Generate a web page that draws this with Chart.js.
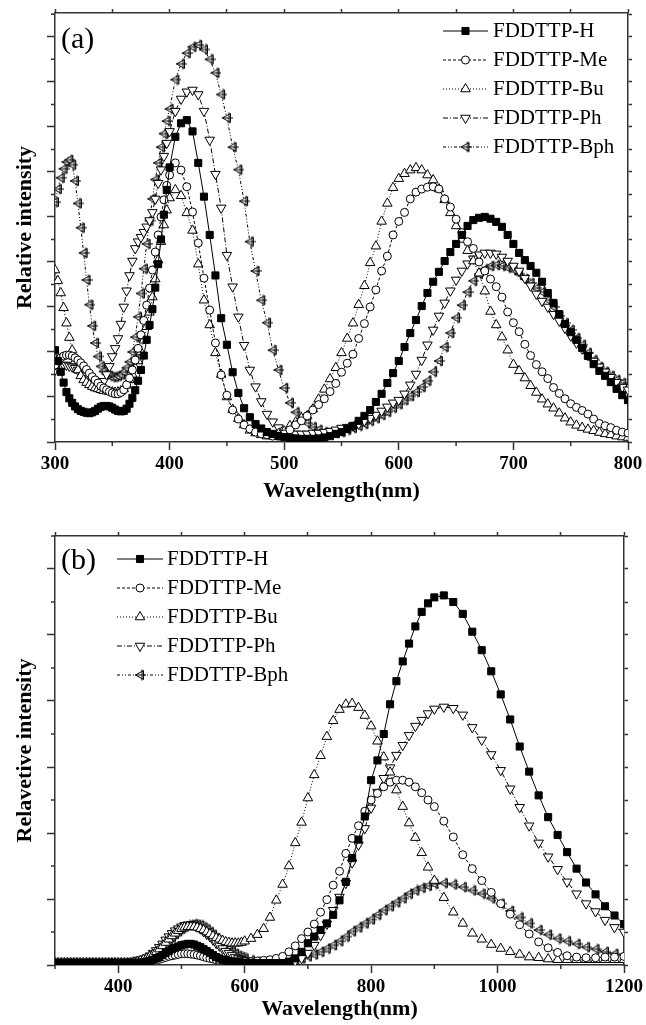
<!DOCTYPE html>
<html>
<head>
<meta charset="utf-8">
<script src="https://cdn.jsdelivr.net/npm/chart.js@4.4.1/dist/chart.umd.min.js"></script>
<style>
  html, body { margin: 0; padding: 0; background: #fff; }
  .panel { position: absolute; left: 0; width: 646px; }
  #wrapA { top: 0; height: 505px; }
  #wrapB { top: 510px; height: 515px; }
</style>
</head>
<body>
<div class="panel" id="wrapA"><canvas id="chartA" width="646" height="505"></canvas></div>
<div class="panel" id="wrapB"><canvas id="chartB" width="646" height="515"></canvas></div>
<script>
var seriesNames = ["FDDTTP-H", "FDDTTP-Me", "FDDTTP-Bu", "FDDTTP-Ph", "FDDTTP-Bph"];

// sampling grid of the spectra (x positions only)
function range(a, b, step) {
  var out = [];
  for (var v = a; v <= b; v += step) out.push(v);
  return out;
}

// ---- panel (a): absorption, 300-400 nm every 2.5 nm, then every 5 nm ----
var wavelengthA = range(300, 400, 2.5).concat(range(405, 800, 5));
var hA = [
  // 300-400
  2.04, 1.8, 1.56, 1.32, 1.11, 0.97, 0.87, 0.79, 0.73, 0.69,
  0.67, 0.65, 0.64, 0.66, 0.69, 0.74, 0.78, 0.8, 0.8, 0.79,
  0.76, 0.72, 0.69, 0.68, 0.69, 0.74, 0.85, 0.98, 1.15, 1.36,
  1.6, 1.92, 2.27, 2.6, 2.95, 3.43, 3.95, 4.5, 5.05, 5.6,
  6.1,
  // 405-800
  6.78, 7.08, 7.15, 6.9, 6.2, 5.45, 4.6, 3.7, 2.75,
  2.16, 1.55, 1.09, 0.75, 0.55, 0.4, 0.3, 0.22, 0.18, 0.13,
  0.11, 0.09, 0.08, 0.07, 0.07, 0.07, 0.08, 0.1, 0.13, 0.18,
  0.22, 0.29, 0.36, 0.47, 0.58, 0.71, 0.89, 1.07, 1.31, 1.53,
  1.8, 2.11, 2.42, 2.71, 3.02, 3.31, 3.56, 3.78, 4.02, 4.22,
  4.4, 4.6, 4.8, 4.93, 4.98, 5.0, 4.96, 4.89, 4.78, 4.6,
  4.4, 4.2, 4.04, 3.91, 3.76, 3.56, 3.31, 3.09, 2.84, 2.62,
  2.44, 2.27, 2.09, 1.91, 1.73, 1.58, 1.47, 1.33, 1.18, 1.04,
  0.93
];
var meA = [
  1.71, 1.8, 1.87, 1.91, 1.93, 1.93, 1.91, 1.87, 1.82, 1.76,
  1.69, 1.61, 1.53, 1.45, 1.38, 1.31, 1.24, 1.2, 1.16, 1.12,
  1.09, 1.07, 1.07, 1.1, 1.16, 1.27, 1.42, 1.6, 1.82, 2.08,
  2.38, 2.7, 3.04, 3.42, 3.82, 4.22, 4.6, 5.0, 5.38, 5.7,
  5.93,
  6.2, 6.04, 5.67, 5.11, 4.42, 3.64, 2.93, 2.2, 1.49,
  1.04, 0.71, 0.51, 0.38, 0.29, 0.22, 0.18, 0.16, 0.13, 0.13,
  0.18, 0.27, 0.38, 0.47, 0.58, 0.71, 0.83, 0.96, 1.12, 1.3,
  1.55, 1.75, 1.95, 2.3, 2.63, 3.0, 3.38, 3.8, 4.13, 4.6,
  4.9, 5.1, 5.4, 5.55, 5.62, 5.66, 5.67, 5.62, 5.4, 5.22,
  4.95, 4.65, 4.45, 4.3, 4.0, 3.8, 3.62, 3.45, 3.22, 2.89,
  2.65, 2.45, 2.17, 1.92, 1.72, 1.56, 1.41, 1.21, 1.08, 0.96,
  0.85, 0.77, 0.7, 0.62, 0.51, 0.41, 0.36, 0.32, 0.26, 0.22,
  0.2
];
var buA = [
  3.82, 3.58, 3.31, 2.98, 2.64, 2.32, 2.04, 1.8, 1.6, 1.47,
  1.38, 1.32, 1.27, 1.23, 1.2, 1.18, 1.16, 1.14, 1.13, 1.12,
  1.11, 1.1, 1.11, 1.13, 1.18, 1.26, 1.38, 1.5, 1.64, 1.8,
  2.0, 2.26, 2.56, 2.88, 3.22, 3.62, 4.04, 4.45, 4.82, 5.15,
  5.42,
  5.6, 5.47, 5.09, 4.7, 3.95, 3.15, 2.6, 1.98, 1.5,
  1.0, 0.72, 0.52, 0.38, 0.26, 0.2, 0.16, 0.13, 0.13, 0.18,
  0.24, 0.36, 0.44, 0.53, 0.58, 0.73, 0.95, 1.17, 1.4, 1.65,
  1.98, 2.3, 2.64, 3.05, 3.47, 3.98, 4.35, 4.9, 5.3, 5.65,
  5.85, 5.96, 6.04, 6.09, 6.04, 5.93, 5.82, 5.62, 5.38, 5.09,
  4.8, 4.5, 4.25, 4.02, 3.75, 3.35, 2.9, 2.6, 2.33, 2.04,
  1.72, 1.58, 1.42, 1.25, 1.1, 0.95, 0.84, 0.75, 0.64, 0.53,
  0.44, 0.37, 0.32, 0.28, 0.25, 0.21, 0.18, 0.16, 0.13, 0.11,
  0.1
];
var phA = [
  1.6, 1.65, 1.69, 1.71, 1.71, 1.69, 1.67, 1.64, 1.6, 1.56,
  1.51, 1.47, 1.42, 1.36, 1.31, 1.28, 1.27, 1.35, 1.5, 1.68,
  1.9, 2.08, 2.3, 2.62, 3.0, 3.36, 3.7, 4.02, 4.3, 4.45,
  4.55, 4.66, 4.78, 4.92, 5.1, 5.4, 5.75, 6.05, 6.35, 6.64,
  6.9,
  7.35, 7.62, 7.78, 7.82, 7.72, 7.35, 6.71, 5.95, 5.2,
  4.15, 3.45, 2.78, 2.15, 1.6, 1.23, 0.9, 0.62, 0.45, 0.32,
  0.25, 0.2, 0.18, 0.18, 0.18, 0.2, 0.2, 0.22, 0.24, 0.27,
  0.31, 0.33, 0.36, 0.4, 0.47, 0.53, 0.6, 0.69, 0.78, 0.87,
  0.93, 1.07, 1.27, 1.51, 1.82, 2.16, 2.49, 2.8, 3.09, 3.36,
  3.6, 3.8, 3.96, 4.07, 4.16, 4.2, 4.2, 4.18, 4.11, 4.02,
  3.91, 3.8, 3.64, 3.47, 3.29, 3.13, 3.0, 2.84, 2.69, 2.53,
  2.36, 2.2, 2.07, 1.93, 1.8, 1.67, 1.56, 1.44, 1.33, 1.22,
  1.16
];
var bphA = [
  5.33, 5.62, 5.87, 6.07, 6.22, 6.27, 6.16, 5.8, 5.3, 4.76,
  4.2, 3.6, 3.05, 2.58, 2.2, 1.9, 1.68, 1.57, 1.51, 1.47,
  1.44, 1.45, 1.47, 1.5, 1.56, 1.65, 1.78, 2.0, 2.33, 2.78,
  3.3, 3.85, 4.4, 4.92, 5.4, 5.83, 6.2, 6.55, 6.85, 7.13,
  7.4,
  8.05, 8.4, 8.64, 8.78, 8.82, 8.72, 8.5, 8.2, 7.72,
  7.2, 6.55, 6.05, 5.35, 4.45, 3.8, 3.15, 2.65, 2.04, 1.6,
  1.2, 0.87, 0.66, 0.51, 0.42, 0.33, 0.27, 0.22, 0.2, 0.2,
  0.22, 0.27, 0.31, 0.36, 0.4, 0.47, 0.53, 0.6, 0.67, 0.76,
  0.84, 0.93, 1.02, 1.11, 1.22, 1.36, 1.56, 1.8, 2.11, 2.42,
  2.76, 3.04, 3.33, 3.58, 3.73, 3.84, 3.91, 3.93, 3.91, 3.87,
  3.82, 3.73, 3.62, 3.53, 3.42, 3.33, 3.16, 3.0, 2.8, 2.64,
  2.49, 2.31, 2.16, 1.98, 1.82, 1.67, 1.56, 1.47, 1.38, 1.31,
  1.22
];

// ---- panel (b): emission, 5 nm to 600, 10 nm to 900, 15 nm to 1200 ----
var wavelengthB = range(300, 600, 5).concat(range(610, 900, 10), range(915, 1200, 15));
var hB = [
  // 300-600
  0.03, 0.03, 0.03, 0.03, 0.03, 0.03, 0.03, 0.03, 0.03, 0.03,
  0.03, 0.03, 0.03, 0.03, 0.03, 0.03, 0.03, 0.03, 0.03, 0.03,
  0.03, 0.03, 0.03, 0.03, 0.03, 0.03, 0.03, 0.035, 0.04, 0.05,
  0.06, 0.08, 0.1, 0.12, 0.15, 0.18, 0.21, 0.24, 0.26, 0.28,
  0.3, 0.31, 0.32, 0.32, 0.31, 0.29, 0.27, 0.24, 0.21, 0.18,
  0.15, 0.12, 0.1, 0.08, 0.07, 0.06, 0.05, 0.045, 0.04, 0.035,
  0.03,
  // 610-900
  0.03, 0.03, 0.03, 0.03, 0.03, 0.03, 0.05, 0.1, 0.2, 0.33,
  0.43, 0.53, 0.63, 0.76, 0.98, 1.26, 1.62, 1.9, 2.25, 2.8,
  3.1, 3.5, 3.95, 4.3, 4.6, 4.87, 5.13, 5.35, 5.48, 5.57,
  // 915-1200
  5.6, 5.5, 5.32, 5.05, 4.77, 4.45, 4.1, 3.72, 3.31, 2.93,
  2.57, 2.24, 1.97, 1.71, 1.46, 1.25, 1.07, 0.89, 0.75, 0.62
];
var meB = [
  0.03, 0.03, 0.03, 0.03, 0.03, 0.03, 0.03, 0.03, 0.03, 0.03,
  0.03, 0.03, 0.03, 0.03, 0.03, 0.03, 0.03, 0.03, 0.03, 0.03,
  0.03, 0.03, 0.03, 0.03, 0.03, 0.03, 0.03, 0.035, 0.04, 0.045,
  0.05, 0.06, 0.07, 0.085, 0.1, 0.115, 0.13, 0.14, 0.15, 0.16,
  0.17, 0.17, 0.17, 0.165, 0.16, 0.15, 0.14, 0.125, 0.11, 0.1,
  0.09, 0.08, 0.07, 0.065, 0.06, 0.055, 0.05, 0.05, 0.05, 0.05,
  0.05,
  0.05, 0.06, 0.07, 0.08, 0.1, 0.13, 0.2, 0.29, 0.4, 0.5,
  0.62, 0.8, 0.99, 1.21, 1.42, 1.69, 1.92, 2.11, 2.33, 2.5,
  2.6, 2.7, 2.77, 2.8, 2.8, 2.77, 2.7, 2.61, 2.5, 2.4,
  2.18, 1.94, 1.67, 1.46, 1.28, 1.1, 0.93, 0.77, 0.61, 0.47,
  0.35, 0.26, 0.19, 0.14, 0.12, 0.11, 0.11, 0.12, 0.12, 0.13
];
var buB = [
  0.03, 0.03, 0.03, 0.03, 0.03, 0.03, 0.03, 0.03, 0.03, 0.03,
  0.03, 0.03, 0.03, 0.03, 0.03, 0.03, 0.03, 0.03, 0.03, 0.03,
  0.03, 0.03, 0.03, 0.03, 0.03, 0.04, 0.05, 0.065, 0.08, 0.1,
  0.13, 0.16, 0.2, 0.24, 0.29, 0.34, 0.39, 0.44, 0.48, 0.52,
  0.55, 0.57, 0.58, 0.58, 0.58, 0.57, 0.55, 0.53, 0.5, 0.47,
  0.44, 0.41, 0.39, 0.37, 0.35, 0.34, 0.33, 0.33, 0.33, 0.34,
  0.36,
  0.4, 0.46, 0.55, 0.72, 0.98, 1.22, 1.5, 1.85, 2.16, 2.53,
  2.88, 3.17, 3.46, 3.7, 3.87, 3.95, 3.96, 3.9, 3.78, 3.62,
  3.39, 3.15, 2.92, 2.65, 2.4, 2.15, 1.93, 1.7, 1.48, 1.28,
  1.02, 0.8, 0.63, 0.48, 0.39, 0.31, 0.25, 0.2, 0.16, 0.12,
  0.11, 0.09, 0.08, 0.08, 0.08, 0.08, 0.08, 0.08, 0.08, 0.08
];
var phB = [
  0.03, 0.03, 0.03, 0.03, 0.03, 0.03, 0.03, 0.03, 0.03, 0.03,
  0.03, 0.03, 0.03, 0.03, 0.03, 0.03, 0.03, 0.03, 0.03, 0.03,
  0.03, 0.03, 0.03, 0.035, 0.04, 0.05, 0.06, 0.075, 0.09, 0.11,
  0.14, 0.18, 0.22, 0.27, 0.32, 0.38, 0.43, 0.48, 0.52, 0.55,
  0.58, 0.6, 0.61, 0.61, 0.6, 0.58, 0.55, 0.51, 0.47, 0.43,
  0.38, 0.33, 0.29, 0.25, 0.21, 0.18, 0.15, 0.12, 0.1, 0.085,
  0.07,
  0.05, 0.04, 0.03, 0.03, 0.03, 0.03, 0.04, 0.06, 0.1, 0.18,
  0.3, 0.45, 0.62, 0.83, 1.03, 1.24, 1.55, 1.82, 2.07, 2.38,
  2.62, 2.83, 2.99, 3.18, 3.33, 3.48, 3.62, 3.71, 3.81, 3.88,
  3.91, 3.89, 3.79, 3.6, 3.41, 3.19, 2.95, 2.67, 2.39, 2.11,
  1.85, 1.64, 1.45, 1.26, 1.08, 0.93, 0.81, 0.68, 0.57, 0.5
];
var bphB = [
  0.03, 0.03, 0.03, 0.03, 0.03, 0.03, 0.03, 0.03, 0.03, 0.03,
  0.03, 0.03, 0.03, 0.03, 0.03, 0.03, 0.03, 0.03, 0.03, 0.03,
  0.03, 0.03, 0.03, 0.035, 0.04, 0.045, 0.05, 0.065, 0.08, 0.1,
  0.12, 0.15, 0.18, 0.22, 0.27, 0.32, 0.37, 0.42, 0.47, 0.51,
  0.55, 0.58, 0.6, 0.61, 0.62, 0.61, 0.6, 0.57, 0.54, 0.5,
  0.46, 0.41, 0.37, 0.32, 0.28, 0.24, 0.2, 0.17, 0.14, 0.12,
  0.1,
  0.07, 0.05, 0.04, 0.04, 0.04, 0.05, 0.06, 0.07, 0.1, 0.13,
  0.16, 0.2, 0.25, 0.3, 0.36, 0.43, 0.51, 0.57, 0.63, 0.69,
  0.76, 0.83, 0.89, 0.95, 1.01, 1.08, 1.13, 1.17, 1.2, 1.23,
  1.24, 1.22, 1.18, 1.13, 1.08, 1.01, 0.93, 0.82, 0.72, 0.63,
  0.53, 0.46, 0.4, 0.36, 0.32, 0.27, 0.24, 0.2, 0.17, 0.15
];

// minor tick positions (bottom / left axes)
var minorXA = [350, 450, 550, 650, 750];
var minorYA = [0.5, 1.5, 2.5, 3.5, 4.5, 5.5, 6.5, 7.5, 8.5, 9.5];
var minorXB = [300, 500, 700, 900, 1100];
var minorYB = [0.5, 1.5, 2.5, 3.5, 4.5, 5.5, 6.5];

var serif = "'Liberation Serif', 'Times New Roman', serif";
var frameColor = "#333";

// left-pointing triangle with a cross, used for FDDTTP-Bph
function bphMarker() {
  var c = document.createElement("canvas");
  c.width = 12;
  c.height = 12;
  var g = c.getContext("2d");
  g.strokeStyle = "#000";
  g.fillStyle = "#fff";
  g.lineWidth = 1;
  g.beginPath();
  g.moveTo(1.5, 6);
  g.lineTo(9.5, 1.5);
  g.lineTo(9.5, 10.5);
  g.closePath();
  g.fill();
  g.stroke();
  g.beginPath();
  g.moveTo(1, 6);
  g.lineTo(12, 6);
  g.moveTo(8, 0.5);
  g.lineTo(8, 11.5);
  g.stroke();
  return c;
}

var styles = [
  { pointStyle: "rect", radius: 5, rotation: 0, fill: "#000", dash: [] },
  { pointStyle: "circle", radius: 4, rotation: 0, fill: "#fff", dash: [3, 2] },
  { pointStyle: "triangle", radius: 5.5, rotation: 0, fill: "#fff", dash: [1, 2] },
  { pointStyle: "triangle", radius: 5.5, rotation: 180, fill: "#fff", dash: [5, 2, 1, 2] },
  { pointStyle: bphMarker(), radius: 5, rotation: 0, fill: "#fff", dash: [3, 2, 1, 2, 1, 2] }
];

function makeDatasets(wl, list) {
  return list.map(function (vals, i) {
    var s = styles[i];
    return {
      label: seriesNames[i],
      data: wl.map(function (w, j) {
        return { x: w, y: vals[j] };
      }),
      borderColor: "#000",
      borderWidth: 1,
      borderDash: s.dash,
      pointStyle: s.pointStyle,
      pointRadius: s.radius,
      pointHoverRadius: s.radius,
      pointRotation: s.rotation,
      pointBackgroundColor: s.fill,
      pointBorderColor: "#000",
      pointBorderWidth: 1,
      tension: 0,
      fill: false,
      showLine: true
    };
  });
}

// minor ticks on the bottom and left axes
var minorTicksPlugin = {
  id: "minorTicks",
  afterDraw: function (chart, args, o) {
    var ctx = chart.ctx;
    var area = chart.chartArea;
    var xs = chart.scales.x;
    var ys = chart.scales.y;
    ctx.save();
    ctx.strokeStyle = frameColor;
    ctx.lineWidth = 1.5;
    ctx.beginPath();
    o.x.forEach(function (v) {
      var px = xs.getPixelForValue(v);
      ctx.moveTo(px, area.bottom);
      ctx.lineTo(px, area.bottom + 4);
    });
    o.y.forEach(function (v) {
      var py = ys.getPixelForValue(v);
      ctx.moveTo(area.left, py);
      ctx.lineTo(area.left - 4, py);
    });
    ctx.stroke();
    ctx.restore();
  }
};

// panel letter and line+marker legend inside the plot
var panelLegendPlugin = {
  id: "panelLegend",
  afterDraw: function (chart, args, o) {
    var ctx = chart.ctx;
    ctx.save();
    ctx.textBaseline = "middle";
    ctx.textAlign = "left";
    ctx.fillStyle = "#000";
    ctx.font = "30px " + serif;
    ctx.fillText(o.label, o.labelX, o.labelY);
    ctx.font = "21px " + serif;
    chart.data.datasets.forEach(function (ds, i) {
      var y = o.y0 + i * o.dy;
      ctx.strokeStyle = "#000";
      ctx.lineWidth = 1;
      ctx.setLineDash(ds.borderDash);
      ctx.beginPath();
      ctx.moveTo(o.x0, y);
      ctx.lineTo(o.x1, y);
      ctx.stroke();
      ctx.setLineDash([]);
      ctx.fillStyle = ds.pointBackgroundColor;
      ctx.strokeStyle = "#000";
      Chart.helpers.drawPoint(ctx, {
        pointStyle: ds.pointStyle,
        rotation: ds.pointRotation,
        radius: ds.pointRadius,
        borderWidth: 1
      }, (o.x0 + o.x1) / 2, y);
      ctx.fillStyle = "#000";
      ctx.fillText(ds.label, o.textX, y);
    });
    ctx.restore();
  }
};

function axisFont(size) {
  return { family: serif, size: size, weight: "bold" };
}

function makeScales(c) {
  var grid = function (len) {
    return { drawOnChartArea: false, drawTicks: true, tickLength: len, tickColor: frameColor, tickWidth: 1.5 };
  };
  var border = { display: true, color: frameColor, width: 1.5 };
  return {
    x: {
      type: "linear", position: "bottom", min: c.xMin, max: c.xMax,
      ticks: { stepSize: c.xStep, includeBounds: false, autoSkip: false, maxRotation: 0,
        padding: 3, color: "#000", font: axisFont(19),
        callback: function (v) { return String(v); } },
      grid: grid(8), border: border,
      title: { display: true, text: "Wavelength(nm)", color: "#000", font: axisFont(22),
        padding: { top: 0, bottom: c.xTitlePad } },
      afterFit: function (s) { s.height = c.bottomH; }
    },
    x2: {
      type: "linear", position: "top", min: c.xMin, max: c.xMax,
      ticks: { display: false, stepSize: c.topStep },
      grid: grid(4), border: border,
      afterFit: function (s) { s.height = c.topH; }
    },
    y: {
      type: "linear", position: "left", min: 0, max: c.yMax,
      ticks: { display: false, stepSize: 1, includeBounds: false },
      grid: grid(8), border: border,
      title: { display: true, text: c.yTitle, color: "#000", font: axisFont(22),
        padding: { top: 12, bottom: 0 } },
      afterFit: function (s) { s.width = 55; }
    },
    y2: {
      type: "linear", position: "right", min: 0, max: c.yMax,
      ticks: { display: false, stepSize: 0.5, includeBounds: false },
      grid: grid(4), border: border,
      afterFit: function (s) { s.width = 18; }
    }
  };
}

function makeChart(id, wl, list, c, legend) {
  return new Chart(document.getElementById(id).getContext("2d"), {
    type: "scatter",
    data: { datasets: makeDatasets(wl, list) },
    options: {
      responsive: false,
      animation: false,
      devicePixelRatio: 1,
      layout: { padding: 0 },
      scales: makeScales(c),
      plugins: {
        legend: { display: false },
        tooltip: { enabled: false },
        minorTicks: c.minor,
        panelLegend: legend
      }
    },
    plugins: [minorTicksPlugin, panelLegendPlugin]
  });
}

makeChart("chartA", wavelengthA, [hA, meA, buA, phA, bphA], {
  xMin: 300, xMax: 800, xStep: 100, topStep: 50, yMax: 9.53,
  topH: 13, bottomH: 63, xTitlePad: 0,
  yTitle: "Relative intensity",
  minor: { x: minorXA, y: minorYA }
}, { label: "(a)", labelX: 61, labelY: 40, x0: 443, x1: 488, textX: 493, y0: 31, dy: 29 });

makeChart("chartB", wavelengthB, [hB, meB, buB, phB, bphB], {
  xMin: 300, xMax: 1200, xStep: 200, topStep: 100, yMax: 6.5,
  topH: 26, bottomH: 60, xTitlePad: 2,
  yTitle: "Relavetive intensity",
  minor: { x: minorXB, y: minorYB }
}, { label: "(b)", labelX: 61, labelY: 51, x0: 117, x1: 163, textX: 167, y0: 49, dy: 29 });
</script>
</body>
</html>
